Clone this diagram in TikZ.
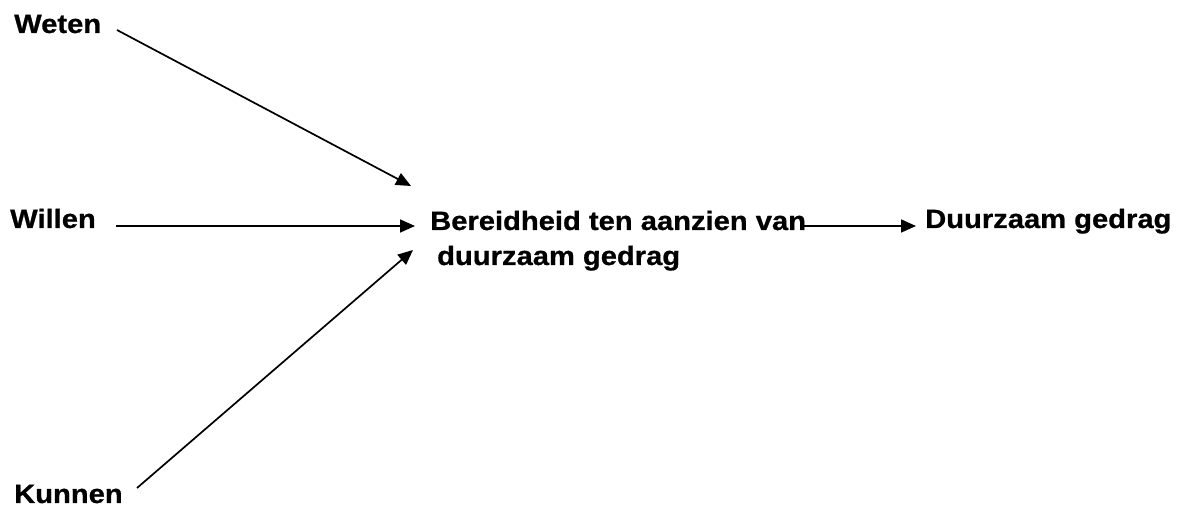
\documentclass[tikz,border=0pt]{standalone}
\usepackage{fontspec}
\setmainfont{Liberation Sans}
\newfontfamily\lblfont{Liberation Sans}[BoldFeatures={FakeStretch=1.1,FakeBold=0.8}]
\usetikzlibrary{arrows.meta}
\begin{document}
\begin{tikzpicture}[x=1pt,y=-1pt,
  lbl/.style={anchor=base west,inner sep=0pt,font=\lblfont\fontsize{26.5}{35}\selectfont\bfseries},
  conn/.style={line width=1.7pt,-{Triangle[length=15pt,width=13pt]}}]
\useasboundingbox (0,0) rectangle (1184,510);
\node[lbl] (weten) at (14,33) {Weten};
\node[lbl] (willen) at (10,228) {Willen};
\node[lbl] (kunnen) at (14,503) {Kunnen};
\node[lbl] (ber) at (430,230) {Bereidheid ten aanzien van};
\node[lbl] (ber2) at (437,265) {duurzaam gedrag};
\node[lbl] (duur) at (925,228) {Duurzaam gedrag};
\coordinate (a1) at (117,30);
\coordinate (a2) at (116,226);
\coordinate (a3) at (137,488);
\coordinate (a4) at (804,226);
\coordinate (t1) at (411,186);
\coordinate (t2) at (415,226);
\coordinate (t3) at (413,250);
\coordinate (t4) at (916,226);
\draw[conn] (a1) -- (t1);
\draw[conn] (a2) -- (t2);
\draw[conn] (a3) -- (t3);
\draw[conn] (a4) -- (t4);
\end{tikzpicture}
\end{document}
